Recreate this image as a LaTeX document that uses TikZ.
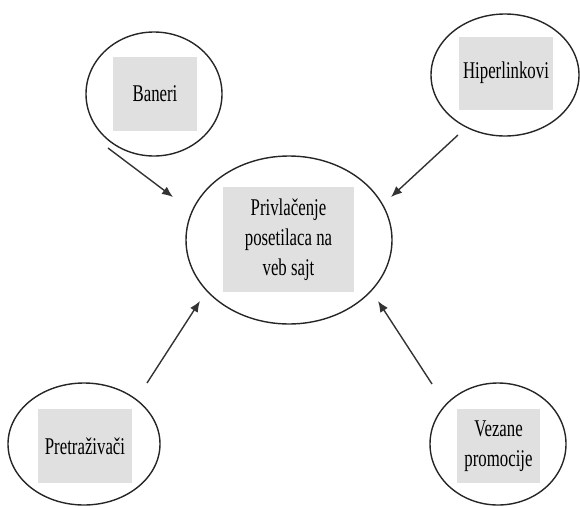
\documentclass[tikz,border=0pt]{standalone}
\usepackage{fontspec}
\setmainfont{Liberation Serif}[FakeStretch=0.7]
\usetikzlibrary{shapes.geometric,arrows.meta}
\tikzset{
  bubble/.style={ellipse,draw=black!85,line width=1.4pt,inner sep=0pt},
  label box/.style={fill=black!12,inner sep=0pt,align=center,
    font=\fontsize{24pt}{30pt}\selectfont},
  arr/.style={draw=black!80,line width=1.4pt,-{Latex[length=11pt,width=9pt]}}
}
\begin{document}
\begin{tikzpicture}[x=1pt,y=-1pt]
\useasboundingbox (0,0) rectangle (580,506);
% ellipses
\node[bubble,minimum width=136pt,minimum height=124pt] (baneriE) at (154,94) {};
\node[bubble,minimum width=148pt,minimum height=122pt] (hiperE) at (505,75) {};
\node[bubble,minimum width=206pt,minimum height=168pt] (centerE) at (289,240) {};
\node[bubble,minimum width=152pt,minimum height=122pt] (pretrE) at (84,444) {};
\node[bubble,minimum width=136pt,minimum height=122pt] (vezE) at (498,444) {};
% gray boxes with text
\node[label box,minimum width=84pt,minimum height=74pt] (baneri) at (155,94) {Baneri};
\node[label box,minimum width=94pt,minimum height=73pt] (hiper) at (506,73) {Hiperlinkovi};
\node[label box,minimum width=131pt,minimum height=105pt] (center) at (288.5,239.5) {Privlačenje\\posetilaca na\\veb sajt};
\node[label box,minimum width=94pt,minimum height=74pt] (pretr) at (85,446) {Pretraživači};
\node[label box,minimum width=83pt,minimum height=74pt] (vez) at (498.5,446) {Vezane\\promocije};
% arrow endpoints
\coordinate (b1) at (108,148);
\coordinate (b2) at (173,197);
\coordinate (h1) at (458,135);
\coordinate (h2) at (391,197);
\coordinate (p1) at (147,383);
\coordinate (p2) at (200,301);
\coordinate (v1) at (432,384);
\coordinate (v2) at (378,301);
\draw[arr] (b1) -- (b2);
\draw[arr] (h1) -- (h2);
\draw[arr] (p1) -- (p2);
\draw[arr] (v1) -- (v2);
\end{tikzpicture}
\end{document}
